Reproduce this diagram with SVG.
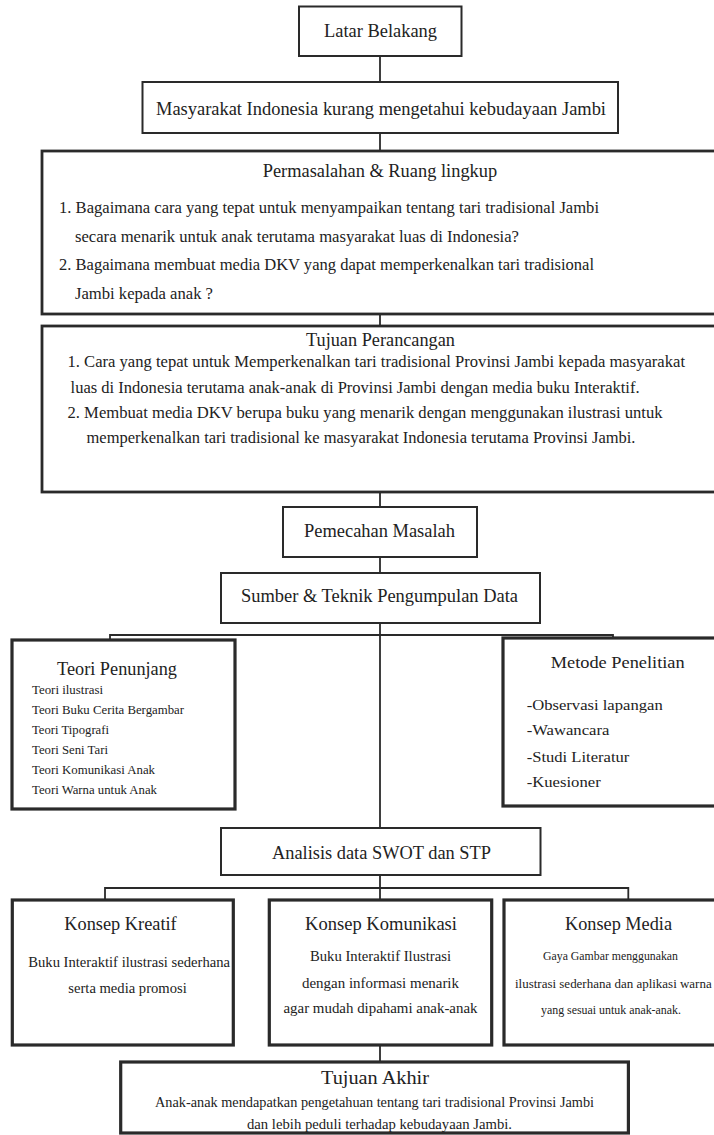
<svg xmlns="http://www.w3.org/2000/svg" width="714" height="1135" viewBox="0 0 714 1135">
<style>
rect{fill:#fff;stroke:#2a2a2a}
.b1{stroke-width:2}
.b2{stroke-width:2.8}
.b3{stroke-width:3.2}
text{font-family:"Liberation Serif","Times New Roman",serif;fill:#222}
.t18{font-size:18px}
.t17{font-size:17px}
.t16{font-size:16.5px}
.t15{font-size:15.5px}
.t14{font-size:14.5px}
.t13{font-size:13px}
.t12{font-size:13px}
#connectors path{fill:none;stroke:#2a2a2a;stroke-width:1.8}
</style>
<rect width="714" height="1135" style="fill:#fff;stroke:none"/>
<g id="connectors">
<path d="M380 56V82"/>
<path d="M380 133V151"/>
<path d="M380 314V325"/>
<path d="M380 492V507"/>
<path d="M380 557V573"/>
<path d="M380 623V828"/>
<path d="M110 640V635H613V638"/>
<path d="M380 875V900"/>
<path d="M105 900V888H628.3V900"/>
<path d="M380 1045V1062"/>
</g>
<g id="latar-belakang">
<rect class="b1" x="299" y="6.5" width="162.5" height="49.5"/>
<text class="t18" x="324" y="37" textLength="113" lengthAdjust="spacingAndGlyphs">Latar Belakang</text>
</g>
<g id="masyarakat">
<rect class="b1" x="142.5" y="82" width="475.5" height="51"/>
<text class="t18" x="156" y="115" textLength="450" lengthAdjust="spacingAndGlyphs">Masyarakat Indonesia kurang mengetahui kebudayaan Jambi</text>
</g>
<g id="permasalahan">
<rect class="b2" x="42" y="151" width="690" height="163"/>
<text class="t18" x="262.7" y="176.5" textLength="234.5" lengthAdjust="spacingAndGlyphs">Permasalahan &amp; Ruang lingkup</text>
<text class="t16" x="59" y="213" textLength="540" lengthAdjust="spacingAndGlyphs">1. Bagaimana cara yang tepat untuk menyampaikan tentang tari tradisional Jambi</text>
<text class="t16" x="75" y="241.5" textLength="444" lengthAdjust="spacingAndGlyphs">secara menarik untuk anak terutama masyarakat luas di Indonesia?</text>
<text class="t16" x="59" y="270" textLength="535" lengthAdjust="spacingAndGlyphs">2. Bagaimana membuat media DKV yang dapat memperkenalkan tari tradisional</text>
<text class="t16" x="75" y="298.5" textLength="138" lengthAdjust="spacingAndGlyphs">Jambi kepada anak ?</text>
</g>
<g id="tujuan-perancangan">
<rect class="b2" x="42" y="326" width="690" height="166"/>
<text class="t18" x="306" y="346" textLength="149" lengthAdjust="spacingAndGlyphs">Tujuan Perancangan</text>
<text class="t16" x="67.5" y="367" textLength="617.5" lengthAdjust="spacingAndGlyphs">1. Cara yang tepat untuk Memperkenalkan tari tradisional Provinsi Jambi kepada masyarakat</text>
<text class="t16" x="70.6" y="392.5" textLength="569" lengthAdjust="spacingAndGlyphs">luas di Indonesia terutama anak-anak di Provinsi Jambi dengan media buku Interaktif.</text>
<text class="t16" x="67.5" y="417.5" textLength="595" lengthAdjust="spacingAndGlyphs">2. Membuat media DKV berupa buku yang menarik dengan menggunakan ilustrasi untuk</text>
<text class="t16" x="86.5" y="442.5" textLength="549" lengthAdjust="spacingAndGlyphs">memperkenalkan tari tradisional ke masyarakat Indonesia terutama Provinsi Jambi.</text>
</g>
<g id="pemecahan-masalah">
<rect class="b1" x="283" y="507" width="194" height="50"/>
<text class="t18" x="304" y="537" textLength="151" lengthAdjust="spacingAndGlyphs">Pemecahan Masalah</text>
</g>
<g id="sumber-teknik">
<rect class="b1" x="221" y="573" width="319" height="50"/>
<text class="t18" x="241" y="602" textLength="277" lengthAdjust="spacingAndGlyphs">Sumber &amp; Teknik Pengumpulan Data</text>
</g>
<g id="teori-penunjang">
<rect class="b3" x="12" y="640" width="223" height="169"/>
<text class="t18" x="57" y="675" textLength="120" lengthAdjust="spacingAndGlyphs">Teori Penunjang</text>
<text class="t13" x="32" y="694" textLength="71" lengthAdjust="spacingAndGlyphs">Teori ilustrasi</text>
<text class="t13" x="32" y="714" textLength="152" lengthAdjust="spacingAndGlyphs">Teori Buku Cerita Bergambar</text>
<text class="t13" x="32" y="733.5" textLength="77" lengthAdjust="spacingAndGlyphs">Teori Tipografi</text>
<text class="t13" x="32" y="753.5" textLength="76" lengthAdjust="spacingAndGlyphs">Teori Seni Tari</text>
<text class="t13" x="32" y="773.5" textLength="123" lengthAdjust="spacingAndGlyphs">Teori Komunikasi Anak</text>
<text class="t13" x="32" y="793.5" textLength="125" lengthAdjust="spacingAndGlyphs">Teori Warna untuk Anak</text>
</g>
<g id="metode-penelitian">
<rect class="b3" x="503" y="638" width="220" height="168"/>
<text class="t17" x="550.7" y="668" textLength="134" lengthAdjust="spacingAndGlyphs">Metode Penelitian</text>
<text class="t15" x="526.7" y="710" textLength="136" lengthAdjust="spacingAndGlyphs">-Observasi lapangan</text>
<text class="t15" x="526.7" y="735" textLength="82.7" lengthAdjust="spacingAndGlyphs">-Wawancara</text>
<text class="t15" x="526.7" y="761.5" textLength="102.7" lengthAdjust="spacingAndGlyphs">-Studi Literatur</text>
<text class="t15" x="526.7" y="786.5" textLength="74" lengthAdjust="spacingAndGlyphs">-Kuesioner</text>
</g>
<g id="analisis-swot">
<rect class="b1" x="221" y="828" width="319.5" height="47"/>
<text class="t18" x="272" y="859" textLength="219" lengthAdjust="spacingAndGlyphs">Analisis data SWOT dan STP</text>
</g>
<g id="konsep-kreatif">
<rect class="b3" x="12.3" y="900" width="221" height="145"/>
<text class="t18" x="64.3" y="930" textLength="112.4" lengthAdjust="spacingAndGlyphs">Konsep Kreatif</text>
<text class="t14" x="28.3" y="967" textLength="201.7" lengthAdjust="spacingAndGlyphs">Buku Interaktif ilustrasi sederhana</text>
<text class="t14" x="68.3" y="993" textLength="118.4" lengthAdjust="spacingAndGlyphs">serta media promosi</text>
</g>
<g id="konsep-komunikasi">
<rect class="b3" x="269.3" y="900" width="222.4" height="145"/>
<text class="t18" x="305" y="930" textLength="152" lengthAdjust="spacingAndGlyphs">Konsep Komunikasi</text>
<text class="t14" x="310" y="961" textLength="141" lengthAdjust="spacingAndGlyphs">Buku Interaktif Ilustrasi</text>
<text class="t14" x="302" y="988" textLength="157" lengthAdjust="spacingAndGlyphs">dengan informasi menarik</text>
<text class="t14" x="283.5" y="1013" textLength="194" lengthAdjust="spacingAndGlyphs">agar mudah dipahami anak-anak</text>
</g>
<g id="konsep-media">
<rect class="b3" x="504" y="900" width="220" height="145"/>
<text class="t18" x="565" y="930" textLength="107" lengthAdjust="spacingAndGlyphs">Konsep Media</text>
<text class="t12" x="543" y="960" textLength="135" lengthAdjust="spacingAndGlyphs">Gaya Gambar menggunakan</text>
<text class="t12" x="515" y="988" textLength="196.7" lengthAdjust="spacingAndGlyphs">ilustrasi sederhana dan aplikasi warna</text>
<text class="t12" x="541" y="1014" textLength="140" lengthAdjust="spacingAndGlyphs">yang sesuai untuk anak-anak.</text>
</g>
<g id="tujuan-akhir">
<rect class="b3" x="120.7" y="1062" width="507.7" height="71"/>
<text class="t18" x="321" y="1084" textLength="108" lengthAdjust="spacingAndGlyphs">Tujuan Akhir</text>
<text class="t15" x="155" y="1106.5" textLength="439" lengthAdjust="spacingAndGlyphs">Anak-anak mendapatkan pengetahuan tentang tari tradisional Provinsi Jambi</text>
<text class="t15" x="247" y="1129" textLength="265" lengthAdjust="spacingAndGlyphs">dan lebih peduli terhadap kebudayaan Jambi.</text>
</g>
</svg>
